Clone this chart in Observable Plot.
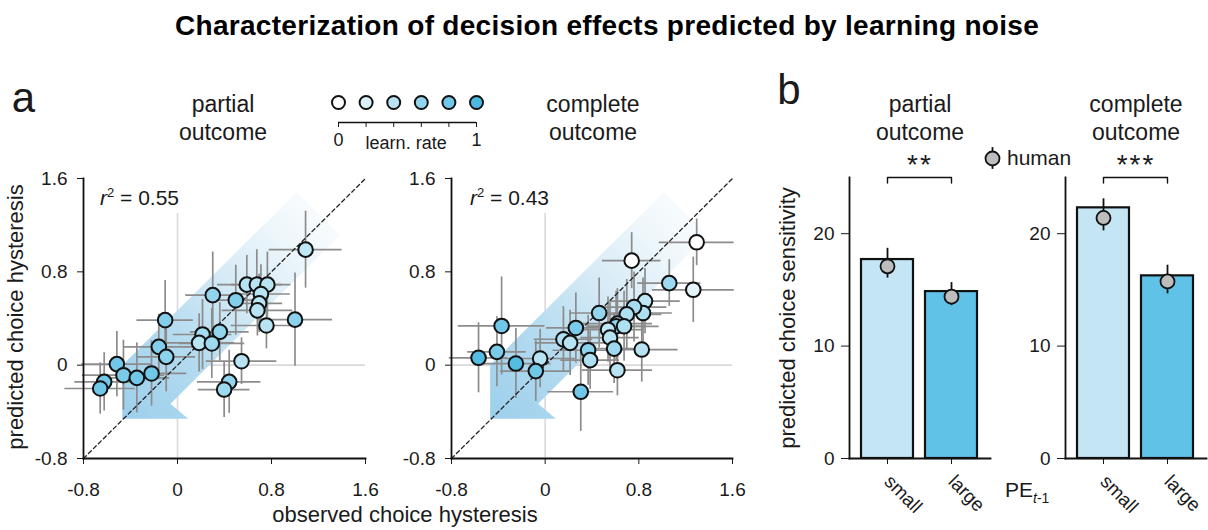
<!DOCTYPE html>
<html><head><meta charset="utf-8">
<script src="https://cdn.jsdelivr.net/npm/d3@7"></script>
<script src="https://cdn.jsdelivr.net/npm/@observablehq/plot@0.6"></script>
<style>
body{margin:0;background:#fff;font-family:"Liberation Sans",Arial,sans-serif;}
#root{position:relative;width:1208px;height:530px;overflow:hidden;background:#fff;}
.t{position:absolute;white-space:nowrap;color:#1a1a1a;line-height:1;}
</style></head><body><div id="root"></div>
<script>
// ---------- data ----------
const hystTicks = [-0.8, 0, 0.8, 1.6];
const sensTicks = [0, 10, 20];
const learnRateSteps = [0, 0.2, 0.4, 0.6, 0.8, 1];
const categories = ["small", "large"];

const partialObsX = [1.09, 0.59, 0.675, 0.765, 0.71, 0.695, 0.68, 0.757, 1.0, 0.496, 0.30, 0.36, 0.213, 0.184, 0.292, 0.545, 0.44, 0.397, -0.105, -0.159, -0.096, -0.516, -0.46, -0.346, -0.221, -0.624, -0.658];
const partialPredY = [0.99, 0.69, 0.69, 0.69, 0.61, 0.53, 0.47, 0.34, 0.39, 0.557, 0.60, 0.286, 0.263, 0.191, 0.186, 0.034, -0.143, -0.209, 0.386, 0.157, 0.071, 0.009, -0.086, -0.109, -0.071, -0.143, -0.20];
const partialErrX = [0.31, 0.25, 0.22, 0.2, 0.25, 0.2, 0.3, 0.3, 0.32, 0.22, 0.23, 0.25, 0.25, 0.3, 0.28, 0.3, 0.27, 0.22, 0.24, 0.3, 0.25, 0.3, 0.35, 0.28, 0.3, 0.25, 0.3];
const partialErrY = [0.33, 0.25, 0.3, 0.28, 0.25, 0.25, 0.22, 0.2, 0.4, 0.3, 0.37, 0.25, 0.3, 0.25, 0.3, 0.2, 0.27, 0.24, 0.34, 0.28, 0.3, 0.28, 0.3, 0.3, 0.28, 0.25, 0.22];
const partialLearnRate = [0.35, 0.4, 0.4, 0.4, 0.4, 0.4, 0.4, 0.4, 0.65, 0.7, 0.6, 0.6, 0.5, 0.4, 0.55, 0.4, 0.6, 0.55, 0.7, 0.7, 0.65, 0.8, 0.75, 0.8, 0.8, 0.8, 0.8];

const completeObsX = [1.294, 1.265, 0.739, 1.06, 0.853, 0.836, 0.759, 0.697, 0.825, 0.617, 0.606, 0.674, 0.537, 0.554, 0.589, 0.617, 0.461, 0.367, 0.384, 0.304, 0.262, 0.156, 0.213, -0.043, -0.08, -0.25, -0.412, -0.372, -0.569];
const completePredY = [1.053, 0.646, 0.896, 0.703, 0.549, 0.447, 0.498, 0.435, 0.134, 0.356, 0.333, 0.333, 0.304, 0.236, 0.142, -0.043, 0.447, 0.128, 0.043, -0.228, 0.319, 0.222, 0.191, 0.057, -0.051, 0.014, 0.114, 0.336, 0.063];
const completeErrX = [0.32, 0.35, 0.25, 0.27, 0.3, 0.25, 0.28, 0.3, 0.31, 0.3, 0.25, 0.3, 0.3, 0.25, 0.28, 0.3, 0.25, 0.3, 0.25, 0.28, 0.25, 0.25, 0.3, 0.3, 0.3, 0.3, 0.25, 0.37, 0.25];
const completeErrY = [0.2, 0.28, 0.24, 0.2, 0.28, 0.3, 0.3, 0.3, 0.28, 0.3, 0.3, 0.3, 0.28, 0.3, 0.3, 0.22, 0.3, 0.3, 0.25, 0.34, 0.3, 0.28, 0.28, 0.25, 0.26, 0.3, 0.3, 0.42, 0.3];
const completeLearnRate = [0.0, 0.15, 0.0, 0.55, 0.35, 0.45, 0.5, 0.45, 0.4, 0.3, 0.6, 0.45, 0.35, 0.4, 0.55, 0.4, 0.6, 0.65, 0.45, 0.8, 0.75, 0.45, 0.4, 0.4, 0.8, 0.95, 0.75, 0.8, 0.95];

// decorative arrow outline (data units)
const arrowX = [-0.47, -0.47, 1.015, 1.385, -0.06, 0.09, -0.47];
const arrowY = [-0.46, 0.0, 1.485, 1.115, -0.33, -0.46, -0.46];

const partialModel = [17.7, 14.85];
const partialHuman = [17.1, 14.4];
const partialHumanLo = [16.05, 13.6];
const partialHumanHi = [18.7, 15.65];
const completeModel = [22.3, 16.25];
const completeHuman = [21.4, 15.75];
const completeHumanLo = [20.25, 14.65];
const completeHumanHi = [23.1, 17.2];

// ---------- helpers ----------
const root = document.getElementById("root");
const FONT = "'Liberation Sans', Arial, sans-serif";
const lrColor = {type: "linear", domain: [0, 1], range: ["#ffffff", "#4cb9e2"]};
const fmt = d => d === 0 ? "0" : String(d);

function place(el, left, top) {
  el.style.position = "absolute";
  el.style.left = left + "px";
  el.style.top = top + "px";
  root.appendChild(el);
}
function txt(html, x, y, size, extra = "", anchor = "center") {
  const d = document.createElement("div");
  d.className = "t";
  d.innerHTML = html;
  const tx = anchor === "center" ? "-50%" : anchor === "end" ? "-100%" : "0";
  d.style.cssText = `left:${x}px;top:${y}px;font-size:${size}px;transform:translate(${tx},-50%);${extra}`;
  root.appendChild(d);
  return d;
}
function gradientDefs(id) {
  return () => {
    const defs = d3.create("svg:defs");
    const g = defs.append("linearGradient").attr("id", id)
      .attr("x1", "0").attr("y1", "1").attr("x2", "1").attr("y2", "0");
    [["0", "#9ccfec"], ["0.3", "#b4dbf0"], ["0.55", "#d6ebf6"], ["0.78", "#eff7fb"], ["1", "#ffffff"]]
      .forEach(([o, c]) => g.append("stop").attr("offset", o).attr("stop-color", c));
    return defs.node();
  };
}

function scatter(xs, ys, exs, eys, lrs, gid, mL, mR) {
  const data = xs.map((x, i) => ({x, y: ys[i], ex: exs[i], ey: eys[i], lr: lrs[i]}));
  const arrow = arrowX.map((x, i) => ({x, y: arrowY[i]}));
  const diag = [{v: hystTicks[0]}, {v: hystTicks[hystTicks.length - 1]}];
  return Plot.plot({
    width: 380, height: 340,
    marginLeft: mL, marginRight: mR, marginTop: 28, marginBottom: 32,
    style: {fontFamily: FONT, fontSize: "19px", color: "#1a1a1a", background: "transparent", overflow: "visible"},
    x: {domain: [-0.8, 1.6], ticks: hystTicks, tickFormat: fmt, tickSize: 6, tickPadding: 18, label: null},
    y: {domain: [-0.8, 1.6], ticks: hystTicks, tickFormat: fmt, tickSize: 6, tickPadding: 10, label: null},
    color: lrColor,
    marks: [
      gradientDefs(gid),
      Plot.ruleX([0], {y1: -0.8, y2: 1.3, stroke: "#d9d9d9", strokeWidth: 1.6}),
      Plot.ruleY([0], {x1: -0.8, x2: 1.6, stroke: "#d9d9d9", strokeWidth: 1.6}),
      Plot.line(arrow, {x: "x", y: "y", fill: `url(#${gid})`, stroke: "none"}),
      Plot.ruleY(data, {y: "y", x1: d => d.x - d.ex, x2: d => d.x + d.ex, stroke: "#8c8c8c", strokeWidth: 1.7}),
      Plot.ruleX(data, {x: "x", y1: d => d.y - d.ey, y2: d => d.y + d.ey, stroke: "#8c8c8c", strokeWidth: 1.7}),
      Plot.line(diag, {x: "v", y: "v", stroke: "#222", strokeWidth: 1.3, strokeDasharray: "4,3"}),
      Plot.dot(data, {x: "x", y: "y", r: 7.3, fill: "lr", stroke: "#111", strokeWidth: 2}),
      Plot.frame({anchor: "left", stroke: "#111", strokeWidth: 1.8}),
      Plot.frame({anchor: "bottom", stroke: "#111", strokeWidth: 1.8})
    ]
  });
}

function bars(model, human, lo, hi, mR, width) {
  const data = categories.map((c, i) => ({cat: c, model: model[i], human: human[i], lo: lo[i], hi: hi[i]}));
  const top = sensTicks[sensTicks.length - 1] + 5;
  const bracket = [
    {c: categories[0], v: top - 0.5}, {c: categories[0], v: top},
    {c: categories[1], v: top}, {c: categories[1], v: top - 0.5}
  ];
  return Plot.plot({
    width, height: 380,
    marginLeft: 89, marginRight: mR, marginTop: 27, marginBottom: 72,
    style: {fontFamily: FONT, fontSize: "19px", color: "#1a1a1a", background: "transparent", overflow: "visible"},
    x: {domain: categories, paddingInner: 0.18, paddingOuter: 0.19, tickSize: 6, tickPadding: 14, tickRotate: 45, label: null},
    y: {domain: [0, top], ticks: sensTicks, tickSize: 8, tickPadding: 7, label: null},
    color: {domain: categories, range: ["#c4e5f4", "#60c2e7"]},
    marks: [
      Plot.barY(data, {x: "cat", y: "model", fill: "cat", stroke: "#111", strokeWidth: 2.2}),
      Plot.ruleX(data, {x: "cat", y1: "lo", y2: "hi", stroke: "#111", strokeWidth: 1.8}),
      Plot.dot(data, {x: "cat", y: "human", r: 7, fill: "#bdbdbd", stroke: "#111", strokeWidth: 1.8}),
      Plot.line(bracket, {x: "c", y: "v", stroke: "#111", strokeWidth: 1.4}),
      Plot.frame({anchor: "left", stroke: "#111", strokeWidth: 1.8}),
      Plot.frame({anchor: "bottom", stroke: "#111", strokeWidth: 1.8})
    ]
  });
}

// ---------- panel a ----------
place(scatter(partialObsX, partialPredY, partialErrX, partialErrY, partialLearnRate, "gradA", 83, 15), 0, 150);
place(scatter(completeObsX, completePredY, completeErrX, completeErrY, completeLearnRate, "gradB", 81, 18), 370, 150);

// learning-rate legend
place(Plot.plot({
  width: 160, height: 65, marginLeft: 8, marginRight: 14, marginTop: 14, marginBottom: 31,
  style: {fontFamily: FONT, fontSize: "18px", color: "#1a1a1a", background: "transparent", overflow: "visible"},
  x: {domain: [0, 1], ticks: learnRateSteps, tickSize: 5, tickPadding: 6, tickFormat: d => d === 0 ? "0" : d === 1 ? "1" : "", label: null},
  y: {domain: [0, 1], axis: null},
  color: lrColor,
  marks: [
    Plot.ruleY([0], {stroke: "#111", strokeWidth: 1.6}),
    Plot.dot(learnRateSteps, {x: d => d, y: 1, r: 6.5, fill: d => d, stroke: "#111", strokeWidth: 2}),
    Plot.text(["learn. rate"], {x: 0.49, y: 0, dy: 21, text: d => d, fontSize: 18})
  ]
}), 330, 88);

// ---------- panel b ----------
place(bars(partialModel, partialHuman, partialHumanLo, partialHumanHi, 10, 240), 760, 150);
place(bars(completeModel, completeHuman, completeHumanLo, completeHumanHi, 2, 232), 976, 150);

// human legend symbol
place(Plot.plot({
  width: 24, height: 26, margin: 0,
  style: {background: "transparent", overflow: "visible"},
  x: {domain: [0, 1], axis: null}, y: {domain: [0, 1], axis: null},
  marks: [
    Plot.ruleX([0.5], {y1: 0.08, y2: 0.92, stroke: "#111", strokeWidth: 1.8}),
    Plot.dot([0.5], {x: d => d, y: 0.5, r: 7, fill: "#bdbdbd", stroke: "#111", strokeWidth: 1.8})
  ]
}), 980, 145);

// ---------- texts ----------
txt("Characterization of decision effects predicted by learning noise", 607, 26, 28, "font-weight:bold;color:#000;letter-spacing:0.3px;");
txt("a", 23.5, 97.5, 42);
txt("b", 789, 90, 42);
txt("partial<br>outcome", 223, 118, 23, "text-align:center;line-height:28px;");
txt("complete<br>outcome", 593, 118, 23, "text-align:center;line-height:28px;");
txt("partial<br>outcome", 920, 118, 23, "text-align:center;line-height:28px;");
txt("complete<br>outcome", 1136, 118, 23, "text-align:center;line-height:28px;");
txt("**", 920, 165, 28, "letter-spacing:2px;");
txt("***", 1136, 165, 28, "letter-spacing:2px;");
txt("human", 1007, 157, 21, "", "start");
txt("<i>r</i><sup style='font-size:13px;'>2</sup> = 0.55", 100, 197, 21, "", "start");
txt("<i>r</i><sup style='font-size:13px;'>2</sup> = 0.43", 470, 197, 21, "", "start");
txt("predicted choice hysteresis", 16, 317, 22, "transform:translate(-50%,-50%) rotate(-90deg);");
txt("observed choice hysteresis", 405, 515, 22);
txt("predicted choice sensitivity", 788, 318, 22, "transform:translate(-50%,-50%) rotate(-90deg);");
txt("PE<sub style='font-size:14px;'><i>t</i>-1</sub>", 1005, 492, 21, "", "start");
</script>
</body></html>
